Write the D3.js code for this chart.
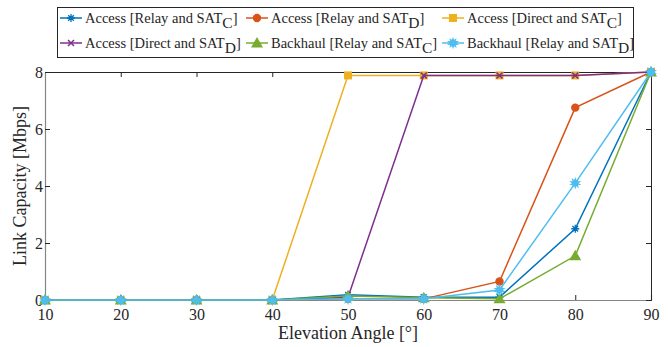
<!DOCTYPE html>
<html>
<head>
<meta charset="utf-8">
<script src="https://d3js.org/d3.v7.min.js"></script>
<style>
  body { margin: 0; background: white; }
  svg text { font-family: "Liberation Serif", serif; fill: #262626; }
</style>
</head>
<body>
<svg width="668" height="347"></svg>
<script>
  // elevation angles
  var angles = [10, 20, 30, 40, 50, 60, 70, 80, 90];
  var xTicks = [10, 20, 30, 40, 50, 60, 70, 80, 90];
  var yTicks = [0, 2, 4, 6, 8];

  // link capacity per series (Mbps)
  var accRelayC  = [0, 0, 0, 0, 0.18, 0.1, 0.1, 2.5, 8];
  var accRelayD  = [0, 0, 0, 0, 0.04, 0.04, 0.65, 6.75, 8];
  var accDirectC = [0, 0, 0, 0, 7.88, 7.88, 7.88, 7.88, 8];
  var accDirectD = [0, 0, 0, 0, 0.1, 7.88, 7.88, 7.88, 8];
  var bhRelayC   = [0, 0, 0, 0, 0.14, 0.08, 0.04, 1.55, 8];
  var bhRelayD   = [0, 0, 0, 0, 0.04, 0.04, 0.35, 4.1, 8];

  var series = [
    {name: "Access [Relay and SAT", sub: "C", values: accRelayC,  color: "#0072BD", marker: "asterisk"},
    {name: "Access [Relay and SAT", sub: "D", values: accRelayD,  color: "#D95319", marker: "circle"},
    {name: "Access [Direct and SAT", sub: "C", values: accDirectC, color: "#EDB120", marker: "square"},
    {name: "Access [Direct and SAT", sub: "D", values: accDirectD, color: "#7E2F8E", marker: "cross"},
    {name: "Backhaul [Relay and SAT", sub: "C", values: bhRelayC,  color: "#77AC30", marker: "triangle"},
    {name: "Backhaul [Relay and SAT", sub: "D", values: bhRelayD,  color: "#4DBEEE", marker: "star"}
  ];

  var pLeft = 45, pRight = 651, pTop = 72, pBottom = 300;
  var svg = d3.select("svg");
  var x = d3.scaleLinear().domain([10, 90]).range([pLeft, pRight]);
  var y = d3.scaleLinear().domain([0, 8]).range([pBottom, pTop]);

  // axes with inward ticks
  var gx = svg.append("g").attr("transform", "translate(0," + pBottom + ")")
    .call(d3.axisBottom(x).tickValues(xTicks).tickSize(-5).tickPadding(9).tickFormat(d3.format("d")));
  var gxt = svg.append("g").attr("transform", "translate(0," + pTop + ")")
    .call(d3.axisTop(x).tickValues(xTicks).tickSize(-5).tickFormat(""));
  var gy = svg.append("g").attr("transform", "translate(" + pLeft + ",0)")
    .call(d3.axisLeft(y).tickValues(yTicks).tickSize(-5).tickPadding(2));
  var gyr = svg.append("g").attr("transform", "translate(" + pRight + ",0)")
    .call(d3.axisRight(y).tickValues(yTicks).tickSize(-5).tickFormat(""));
  [gx, gxt, gy, gyr].forEach(function(g) {
    g.selectAll("text").attr("font-size", 16).attr("font-family", "Liberation Serif").attr("fill", "#262626");
    g.selectAll("line").attr("stroke", "#262626");
  });
  gx.select(".domain").attr("stroke", "#858585").attr("stroke-width", 1.2);
  gy.select(".domain").attr("stroke", "#858585").attr("stroke-width", 1.2);
  gxt.select(".domain").attr("stroke", "#262626");
  gyr.select(".domain").attr("stroke", "#262626");

  // axis labels
  svg.append("text").attr("x", (pLeft + pRight) / 2).attr("y", 339)
    .attr("text-anchor", "middle").attr("font-size", 18).text("Elevation Angle [°]");
  svg.append("text").attr("transform", "translate(26," + ((pTop + pBottom) / 2) + ") rotate(-90)")
    .attr("text-anchor", "middle").attr("font-size", 18).text("Link Capacity [Mbps]");

  function drawMarker(g, type, color, cx, cy) {
    var s = 4;
    if (type === "circle") {
      g.append("circle").attr("cx", cx).attr("cy", cy).attr("r", 4.2).attr("fill", color);
    } else if (type === "square") {
      g.append("rect").attr("x", cx - 4).attr("y", cy - 4).attr("width", 8).attr("height", 8).attr("fill", color);
    } else if (type === "triangle") {
      g.append("path").attr("d", "M" + cx + "," + (cy - 6) + "L" + (cx + 6) + "," + (cy + 4.5) + "L" + (cx - 6) + "," + (cy + 4.5) + "Z").attr("fill", color);
    } else if (type === "star") {
      g.append("path").attr("d", d3.symbol().type(d3.symbolStar).size(45)()).attr("transform", "translate(" + cx + "," + cy + ")").attr("fill", color);
      g.append("path").attr("d", d3.symbol().type(d3.symbolStar).size(45)()).attr("transform", "translate(" + cx + "," + cy + ") rotate(36)").attr("fill", color);
    } else if (type === "cross") {
      g.append("path").attr("d", "M" + (cx - 3) + "," + (cy - 3) + "L" + (cx + 3) + "," + (cy + 3) + "M" + (cx - 3) + "," + (cy + 3) + "L" + (cx + 3) + "," + (cy - 3))
        .attr("stroke", color).attr("stroke-width", 1.5);
    } else if (type === "asterisk") {
      var p = "";
      for (var k = 0; k < 4; k++) {
        var a = k * Math.PI / 4;
        p += "M" + (cx - s * Math.cos(a)) + "," + (cy - s * Math.sin(a)) + "L" + (cx + s * Math.cos(a)) + "," + (cy + s * Math.sin(a));
      }
      g.append("path").attr("d", p).attr("stroke", color).attr("stroke-width", 1.3);
    }
  }

  var line = d3.line().x(function(d, i) { return x(angles[i]); }).y(function(d) { return y(d); });
  series.forEach(function(s) {
    var g = svg.append("g");
    g.append("path").datum(s.values).attr("d", line).attr("fill", "none").attr("stroke", s.color).attr("stroke-width", 1.5);
    s.values.forEach(function(v, i) { drawMarker(g, s.marker, s.color, x(angles[i]), y(v)); });
  });

  // legend
  var legend = svg.append("g");
  legend.append("rect").attr("x", 57.5).attr("y", 7.5).attr("width", 576).attr("height", 50)
    .attr("fill", "white").attr("stroke", "#262626").attr("stroke-width", 1);
  var colX = [60, 246, 442];
  var rowY = [18, 43];
  series.forEach(function(s, i) {
    var cx = colX[i % 3], cy = rowY[Math.floor(i / 3)];
    legend.append("line").attr("x1", cx).attr("x2", cx + 22).attr("y1", cy).attr("y2", cy)
      .attr("stroke", s.color).attr("stroke-width", 1.5);
    drawMarker(legend, s.marker, s.color, cx + 11, cy);
    var t = legend.append("text").attr("x", cx + 25).attr("y", cy + 5).attr("font-size", 14.5);
    t.append("tspan").text(s.name);
    t.append("tspan").attr("dy", 5).attr("font-size", 15.5).text(s.sub);
    t.append("tspan").attr("dy", -5).text("]");
  });
</script>
</body>
</html>
